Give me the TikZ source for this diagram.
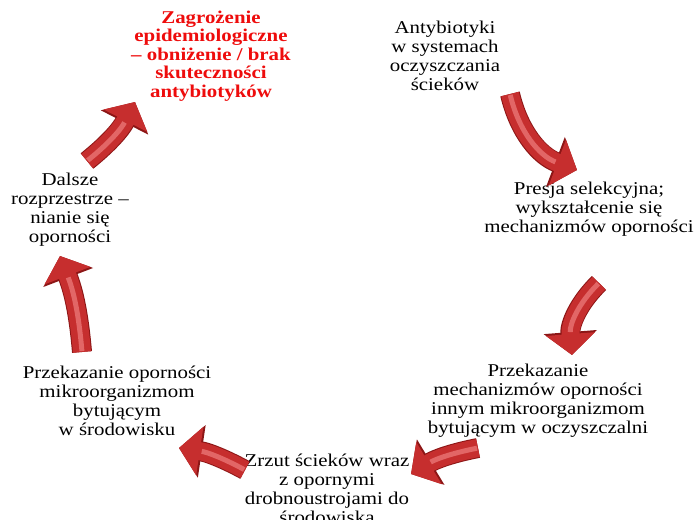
\documentclass[tikz,border=0pt]{standalone}
\usepackage{fontspec}
\setmainfont{Liberation Serif}[FakeStretch=1.16]
\usetikzlibrary{arrows.meta}
\usetikzlibrary{positioning}

\definecolor{arrowred}{RGB}{198,46,46}
\definecolor{arrowlight}{RGB}{226,102,102}
\definecolor{arrowdark}{RGB}{140,22,22}
\definecolor{alertred}{RGB}{238,12,12}

\begin{document}
\begin{tikzpicture}[x=1pt,y=-1pt,
		text node/.style={align=center,inner sep=0pt,font=\fontsize{18}{19}\selectfont},
		alert node/.style={text node,text=alertred,font=\fontsize{18}{18.5}\selectfont\bfseries},
		cycle arrow/.style={draw=arrowred,line width=18pt,-{Triangle[width=48pt,length=21pt]},
			preaction={draw=arrowdark,line width=20pt,-{Triangle[width=52pt,length=23pt]}},
			postaction={draw=arrowlight,line width=5pt,-,shorten >=23pt,shorten <=1pt}}]
		
		\useasboundingbox (0,0) rectangle (695,519);
		
		% stages of the cycle
		\node[alert node] (zagroz) at (211,56) {Zagrożenie\\ epidemiologiczne\\ – obniżenie / brak\\ skuteczności\\ antybiotyków};
		\node[text node] (ant) at (445,56) {Antybiotyki\\ w systemach\\ oczyszczania\\ ścieków};
		\node[text node] (presja) at (589,209) {Presja selekcyjna;\\ wykształcenie się\\ mechanizmów oporności};
		\node[text node] (przek1) at (538,401) {Przekazanie\\ mechanizmów oporności\\ innym mikroorganizmom\\ bytującym w oczyszczalni};
		\node[text node] (zrzut) at (327,489) {Zrzut ścieków wraz\\ z opornymi\\ drobnoustrojami do\\ środowiska};
		\node[text node] (przek2) at (117,401) {Przekazanie oporności\\ mikroorganizmom\\ bytującym\\ w środowisku};
		\node[text node] (dalsze) at (70,210) {Dalsze\\ rozprzestrze –\\ nianie się\\ oporności};
		
		% arrow ends
		\coordinate (t1) at (510,94);  \coordinate (h1) at (577,170);
		\coordinate (t2) at (599,283); \coordinate (h2) at (572,355);
		\coordinate (t3) at (478,448); \coordinate (h3) at (411,474);
		\coordinate (t4) at (245,470); \coordinate (h4) at (179,448);
		\coordinate (t5) at (82,352);  \coordinate (h5) at (60,256);
		\coordinate (t6) at (87,161);  \coordinate (h6) at (135,102);
		
		\draw[cycle arrow] (t1) to[bend right=28] (h1);
		\draw[cycle arrow] (t2) to[bend right=25] (h2);
		\draw[cycle arrow] (t3) to[bend right=10] (h3);
		\draw[cycle arrow] (t4) to[bend right=10] (h4);
		\draw[cycle arrow] (t5) to[bend right=8] (h5);
		\draw[cycle arrow] (t6) to[bend right=12] (h6);
\end{tikzpicture}
\end{document}
